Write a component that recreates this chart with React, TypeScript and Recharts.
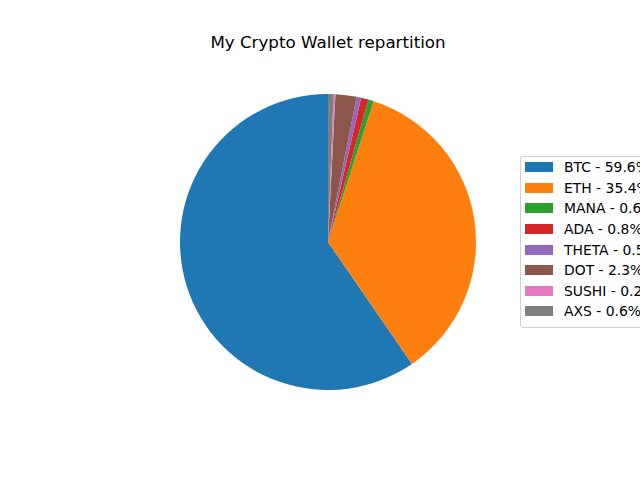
import { PieChart, Pie, Cell, Legend } from "recharts";

const coins = ["BTC", "ETH", "MANA", "ADA", "THETA", "DOT", "SUSHI", "AXS"];
const shares = [59.6, 35.4, 0.6, 0.8, 0.5, 2.3, 0.2, 0.6];
const colors = [
  "#1f77b4",
  "#ff7f0e",
  "#2ca02c",
  "#d62728",
  "#9467bd",
  "#8c564b",
  "#e377c2",
  "#7f7f7f",
];

const data = coins.map((name, i) => ({ name, value: shares[i] }));

const font = "'DejaVu Sans', sans-serif";

// matplotlib-ish legend box, clipped by the figure edge like the original
function WalletLegend() {
  return (
    <div
      style={{
        background: "rgba(255,255,255,0.8)",
        border: "1px solid #d0d0d0",
        borderRadius: 3,
        padding: "0 0 5px 4px",
        fontFamily: font,
        fontSize: 13.9,
        color: "#000",
        whiteSpace: "nowrap",
        width: 140,
      }}
    >
      {data.map((d, i) => (
        <div
          key={d.name}
          style={{ display: "flex", alignItems: "center", height: 20.6 }}
        >
          <span
            style={{
              display: "inline-block",
              width: 28,
              height: 10,
              background: colors[i],
              marginRight: 11,
            }}
          />
          <span>{`${d.name} - ${d.value.toFixed(1)}%`}</span>
        </div>
      ))}
    </div>
  );
}

export default function App() {
  return (
    <div
      style={{
        position: "fixed",
        left: 0,
        top: 0,
        width: 640,
        height: 480,
        overflow: "hidden",
        background: "#fff",
      }}
    >
      <div
        style={{
          position: "absolute",
          top: 32,
          left: 0,
          width: 656,
          textAlign: "center",
          fontFamily: font,
          fontSize: 16.7,
          color: "#000",
        }}
      >
        My Crypto Wallet repartition
      </div>
      <PieChart
        width={640}
        height={480}
        margin={{ top: 0, right: 0, bottom: 0, left: 0 }}
      >
        <Pie
          data={data}
          dataKey="value"
          nameKey="name"
          cx={328}
          cy={242}
          outerRadius={148}
          startAngle={90}
          endAngle={450}
          stroke="none"
          isAnimationActive={false}
        >
          {data.map((d, i) => (
            <Cell key={d.name} fill={colors[i]} />
          ))}
        </Pie>
        <Legend
          content={() => <WalletLegend />}
          wrapperStyle={{ position: "absolute", left: 520, top: 156, width: 140 }}
        />
      </PieChart>
    </div>
  );
}
